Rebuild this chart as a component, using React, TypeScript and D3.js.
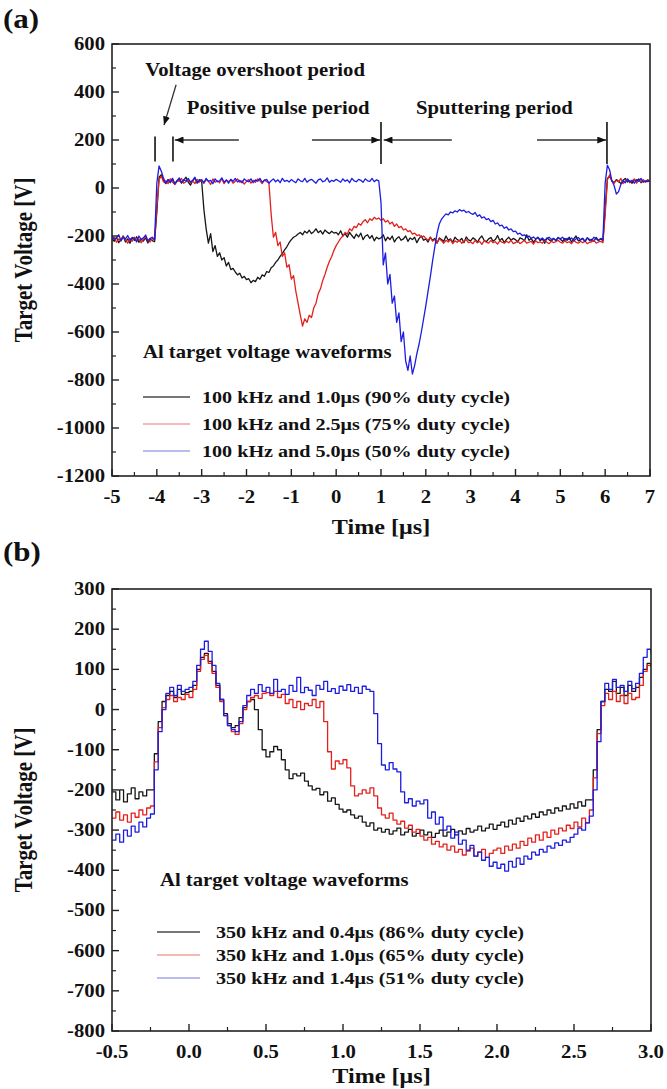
import React from 'react';
import * as d3 from 'd3';

const FONT = "'Liberation Serif','Times New Roman',Times,serif";
const SX = 1.15;

// ---------------- Panel (a) data: sampled every 0.05 µs from -5 µs ----------------
const aStart = -5;
const aStep = 0.05;
const aBlack = [
  -210,-222,-205,-228,-215,-200,-225,-212,-230,-208,-218,-203,-226,-214,-221,-207,-229,-211,-219,-224,
  -100,45,55,30,18,35,22,40,15,28,38,20,32,45,25,12,30,42,22,35,
  28,-90,-170,-230,-190,-265,-240,-285,-270,-300,-290,-325,-310,-340,-335,-350,-362,-355,-375,-368,
  -382,-378,-395,-385,-390,-372,-380,-362,-368,-348,-352,-332,-325,-310,-300,-285,-272,-258,-245,-228,
  -215,-205,-200,-192,-185,-195,-180,-188,-176,-190,-182,-170,-186,-178,-192,-175,-184,-190,-180,-188,
  -185,-195,-178,-200,-190,-205,-185,-198,-210,-192,-204,-188,-215,-200,-195,-210,-198,-220,-205,-212,
  -208,-195,-220,-205,-215,-200,-225,-210,-203,-218,-212,-200,-222,-208,-215,-205,-228,-210,-200,-218,
  -212,-225,-205,-218,-210,-230,-208,-215,-222,-200,-218,-212,-226,-205,-215,-220,-210,-228,-204,-216,
  -220,-208,-214,-226,-210,-200,-218,-224,-212,-206,-222,-215,-198,-220,-210,-228,-214,-205,-218,-210,
  -215,-225,-208,-212,-220,-195,-218,-210,-226,-214,-205,-220,-212,-230,-208,-216,-222,-210,-218,-206,
  -214,-222,-210,-218,-205,-226,-212,-200,-220,-216,-210,-224,-208,-218,-214,-222,-206,-218,-212,-220,
  -90,40,48,30,22,35,28,18,32,40,25,30,20,35,28,38,22,30,26,34,
  28,
];
const aRed = [
  -218,-205,-226,-212,-220,-200,-215,-230,-210,-222,-205,-218,-212,-228,-215,-203,-220,-225,-210,-216,
  -80,35,50,25,30,18,38,25,15,32,28,40,20,26,35,22,30,18,36,25,
  30,20,35,28,15,38,24,30,22,40,18,32,26,35,20,28,38,24,30,16,
  28,35,20,32,24,38,30,18,34,26,22,-110,-205,-185,-240,-225,-285,-270,-330,-320,
  -380,-365,-430,-480,-530,-575,-545,-560,-530,-540,-500,-480,-440,-420,-385,-360,-330,-305,-285,-260,
  -240,-225,-210,-200,-185,-192,-170,-178,-160,-165,-148,-155,-140,-132,-145,-128,-135,-122,-130,-125,
  -135,-128,-142,-135,-150,-142,-160,-150,-165,-160,-175,-170,-182,-178,-192,-188,-198,-195,-205,-200,
  -210,-218,-205,-222,-215,-228,-212,-220,-230,-218,-225,-215,-232,-220,-226,-218,-230,-222,-215,-228,
  -225,-232,-218,-228,-222,-235,-220,-226,-230,-218,-228,-224,-234,-220,-226,-230,-222,-228,-218,-232,
  -228,-220,-232,-225,-218,-230,-226,-222,-234,-220,-228,-225,-230,-218,-226,-232,-222,-228,-224,-218,
  -226,-230,-220,-228,-224,-232,-218,-226,-230,-222,-228,-220,-232,-226,-224,-218,-230,-225,-222,-228,
  -110,35,55,28,20,32,25,40,18,30,35,22,28,38,20,32,26,35,24,30,
  28,
];
const aBlue = [
  -200,-215,-208,-195,-220,-205,-212,-198,-218,-206,-210,-225,-200,-214,-208,-196,-220,-210,-205,-215,
  20,92,70,40,20,35,25,38,18,30,42,22,35,28,40,25,32,45,20,30,
  35,22,40,28,32,18,38,26,30,42,24,34,20,36,28,40,25,32,22,38,
  30,26,38,22,34,28,40,24,32,36,20,30,38,26,34,22,40,28,32,25,
  35,28,22,38,30,26,40,24,32,36,28,20,34,38,26,30,42,24,32,28,
  36,30,24,38,28,34,22,40,30,26,36,32,24,38,30,28,40,26,34,30,
  -60,-320,-270,-400,-360,-480,-450,-560,-520,-640,-600,-720,-760,-700,-775,-740,-690,-650,-600,-545,
  -490,-430,-370,-305,-245,-190,-150,-130,-118,-108,-112,-100,-104,-95,-100,-90,-96,-92,-102,-98,
  -105,-110,-102,-118,-112,-125,-120,-132,-128,-140,-135,-150,-145,-158,-155,-168,-162,-175,-170,-182,
  -180,-192,-188,-198,-195,-205,-200,-210,-204,-212,-206,-215,-208,-218,-210,-205,-215,-210,-220,-208,
  -212,-205,-218,-210,-215,-208,-220,-212,-206,-216,-210,-222,-208,-214,-218,-205,-212,-220,-210,-215,
  20,95,75,30,10,-25,-15,15,30,22,38,25,32,20,35,28,40,24,30,26,
  30,
];
const aXTicks = [-5, -4, -3, -2, -1, 0, 1, 2, 3, 4, 5, 6, 7];
const aYTicks = [-1200, -1000, -800, -600, -400, -200, 0, 200, 400, 600];
const aLegend = [
  '100 kHz and 1.0μs (90% duty cycle)',
  '100 kHz and 2.5μs (75% duty cycle)',
  '100 kHz and 5.0μs (50% duty cycle)',
];
// annotation marks in data space: [t, vLow, vHigh]
const aBars = [[-4.04, 110, 215], [-3.64, 110, 215], [1.0, 100, 275], [6.04, 100, 275]];
// arrows [tFrom, vFrom, tTo, vTo]
const aArrows = [
  [-2.17, 200, -3.6, 200],
  [-0.54, 200, 0.98, 200],
  [2.58, 200, 1.06, 200],
  [4.48, 200, 6.02, 200],
  [-3.57, 430, -3.84, 262],
];
const aNotes: [string, number, number][] = [
  ['Voltage overshoot period', -4.26, 492],
  ['Positive pulse period', -3.33, 333],
  ['Sputtering period', 1.78, 333],
];

// ---------------- Panel (b) data: sampled every 0.025 µs from -0.5 µs ----------------
const bStart = -0.5;
const bStep = 0.025;
const bBlack = [
  -205,-225,-200,-230,-210,-195,-222,-205,-215,-200,-200,-110,-30,20,35,45,30,50,38,42,
  45,60,100,130,140,120,95,60,25,-10,-35,-45,-40,-20,5,20,25,0,-50,-100,
  -118,-105,-92,-100,-125,-150,-172,-160,-165,-158,-178,-190,-200,-196,-212,-205,-228,-220,-236,-248,
  -255,-250,-262,-270,-265,-280,-290,-282,-300,-295,-305,-298,-310,-302,-295,-312,-305,-298,-315,-308,
  -300,-312,-305,-318,-308,-300,-315,-305,-298,-312,-302,-310,-296,-305,-300,-290,-302,-295,-285,-298,
  -288,-280,-292,-275,-285,-270,-278,-265,-272,-260,-268,-255,-262,-250,-258,-245,-252,-240,-248,-235,
  -245,-230,-240,-225,-225,-150,-50,20,50,45,70,40,55,35,60,45,55,80,100,115,
  105,
];
const bRed = [
  -270,-255,-275,-262,-280,-258,-268,-250,-262,-245,-240,-130,-45,5,25,35,20,30,25,38,
  30,50,95,125,135,115,90,55,20,-15,-40,-55,-62,-35,0,20,30,35,28,40,
  42,35,45,30,38,15,25,5,20,0,15,10,25,5,20,-30,-105,-148,-128,-135,
  -125,-145,-190,-215,-210,-200,-208,-195,-215,-245,-262,-270,-258,-275,-285,-278,-295,-288,-305,-298,
  -315,-325,-318,-335,-328,-342,-335,-350,-340,-355,-348,-362,-352,-345,-365,-355,-348,-368,-358,-350,
  -345,-358,-340,-350,-335,-345,-328,-338,-320,-330,-312,-325,-305,-318,-300,-310,-295,-302,-288,-296,
  -280,-292,-270,-282,-250,-170,-60,10,40,25,45,20,35,15,40,25,30,60,95,110,
  115,
];
const bBlue = [
  -325,-310,-330,-300,-315,-290,-305,-280,-292,-270,-260,-150,-55,0,40,55,35,60,45,50,
  55,70,110,150,170,145,110,65,25,-15,-40,-50,-55,-30,10,35,50,40,62,45,
  55,40,75,45,50,38,60,45,80,42,55,48,35,60,50,70,45,52,40,58,
  48,62,45,55,40,58,50,45,-10,-85,-138,-150,-132,-148,-155,-205,-232,-222,-240,-228,
  -235,-225,-270,-255,-285,-268,-300,-290,-320,-305,-335,-325,-350,-338,-365,-355,-375,-368,-390,-380,
  -395,-385,-402,-378,-392,-370,-385,-365,-372,-355,-362,-348,-355,-340,-345,-332,-338,-325,-330,-318,
  -310,-295,-300,-282,-265,-200,-80,20,65,50,75,55,60,45,70,52,65,90,130,150,
  140,
];
const bXTicks = [-0.5, 0, 0.5, 1, 1.5, 2, 2.5, 3];
const bYTicks = [-800, -700, -600, -500, -400, -300, -200, -100, 0, 100, 200, 300];
const bLegend = [
  '350 kHz and 0.4μs (86% duty cycle)',
  '350 kHz and 1.0μs (65% duty cycle)',
  '350 kHz and 1.4μs (51% duty cycle)',
];

const COLORS = ['#161616', '#e4201c', '#1c1ce2'];
const LEGEND_COLORS = ['#4a4a4a', '#f4a0a0', '#a4a4ea'];

function Txt({ x, y, size = 18, anchor = 'start', rotate = false, children }: any) {
  const tr = `translate(${x},${y}) scale(${SX},1)` + (rotate ? ' rotate(-90)' : '');
  return (
    <text transform={tr} fontFamily={FONT} fontWeight="bold" fontSize={size}
      textAnchor={anchor} dominantBaseline="central" fill="#111">{children}</text>
  );
}

function Panel(props: any) {
  const { id, box, xDomain, yDomain, xTicks, yTicks, xFmt, series, start, step, curve,
    legendTitle, legendLabels, legend, letter, letterY, annot, titleDy } = props;
  const x = d3.scaleLinear().domain(xDomain).range([box.l, box.r]);
  const y = d3.scaleLinear().domain(yDomain).range([box.b, box.t]);
  const line = d3.line<number>().x((_, i) => x(start + i * step)).y((d) => y(d)).curve(curve);
  const xMinor = xTicks.slice(1).map((v: number, i: number) => (v + xTicks[i]) / 2);
  const yMinor = yTicks.slice(1).map((v: number, i: number) => (v + yTicks[i]) / 2);
  const stroke = '#222';
  return (
    <g>
      <defs>
        <clipPath id={`clip-${id}`}>
          <rect x={box.l} y={box.t} width={box.r - box.l} height={box.b - box.t} />
        </clipPath>
      </defs>
      <g clipPath={`url(#clip-${id})`}>
        {series.map((s: number[], k: number) => (
          <path key={k} d={line(s) || ''} fill="none" stroke={COLORS[k]} strokeWidth={1.3} strokeLinejoin="round" />
        ))}
      </g>
      {annot ? annot(x, y) : null}
      <rect x={box.l} y={box.t} width={box.r - box.l} height={box.b - box.t} fill="none" stroke={stroke} strokeWidth={1.6} />
      {xTicks.map((v: number) => (
        <line key={'xt' + v} x1={x(v)} x2={x(v)} y1={box.b} y2={box.b - 7} stroke={stroke} strokeWidth={1.4} />
      ))}
      {xMinor.map((v: number) => (
        <line key={'xm' + v} x1={x(v)} x2={x(v)} y1={box.b} y2={box.b - 4} stroke={stroke} strokeWidth={1.2} />
      ))}
      {yTicks.map((v: number) => (
        <line key={'yt' + v} x1={box.l} x2={box.l + 7} y1={y(v)} y2={y(v)} stroke={stroke} strokeWidth={1.4} />
      ))}
      {yMinor.map((v: number) => (
        <line key={'ym' + v} x1={box.l} x2={box.l + 4} y1={y(v)} y2={y(v)} stroke={stroke} strokeWidth={1.2} />
      ))}
      {xTicks.map((v: number) => (
        <Txt key={'xl' + v} x={x(v)} y={box.b + 21} anchor="middle">{xFmt(v)}</Txt>
      ))}
      {yTicks.map((v: number) => (
        <Txt key={'yl' + v} x={box.l - 7} y={y(v)} anchor="end">{String(v)}</Txt>
      ))}
      <Txt x={(box.l + box.r) / 2} y={box.b + titleDy} size={21} anchor="middle">Time [μs]</Txt>
      <Txt x={24} y={(box.t + box.b) / 2} size={21} anchor="middle" rotate>Target Voltage [V]</Txt>
      <Txt x={3} y={letterY} size={27}>{letter}</Txt>
      <Txt x={legend.titleX} y={legend.titleY}>{legendTitle}</Txt>
      {legendLabels.map((lab: string, k: number) => (
        <g key={'lg' + k}>
          <line x1={legend.lineX1} x2={legend.lineX2} y1={legend.rowY + k * legend.rowDy}
            y2={legend.rowY + k * legend.rowDy} stroke={LEGEND_COLORS[k]} strokeWidth={1.3} />
          <Txt x={legend.textX} y={legend.rowY + k * legend.rowDy} size={17.5}>{lab}</Txt>
        </g>
      ))}
    </g>
  );
}

export default function App() {
  const annotA = (x: any, y: any) => (
    <g>
      {aBars.map((b, i) => (
        <line key={'bar' + i} x1={x(b[0])} x2={x(b[0])} y1={y(b[1])} y2={y(b[2])} stroke="#111" strokeWidth={1.6} />
      ))}
      {aArrows.map((a, i) => (
        <line key={'arr' + i} x1={x(a[0])} y1={y(a[1])} x2={x(a[2])} y2={y(a[3])}
          stroke="#333" strokeWidth={1.3} markerEnd="url(#arrowHead)" />
      ))}
      {aNotes.map((n, i) => (
        <Txt key={'note' + i} x={x(n[1])} y={y(n[2])}>{n[0]}</Txt>
      ))}
    </g>
  );
  return (
    <svg width={667} height={1089} viewBox="0 0 667 1089"
      style={{ position: 'absolute', left: 0, top: 0, background: '#fff' }}>
      <defs>
        <marker id="arrowHead" viewBox="0 0 10 8" refX={10} refY={4} markerWidth={9} markerHeight={7}
          markerUnits="userSpaceOnUse" orient="auto">
          <path d="M0,0 L10,4 L0,8 z" fill="#111" />
        </marker>
      </defs>
      <rect x={0} y={0} width={667} height={1089} fill="#fff" />
      <Panel
        id="a"
        box={{ l: 112, r: 650, t: 44, b: 476 }}
        xDomain={[-5, 7]}
        yDomain={[-1200, 600]}
        xTicks={aXTicks}
        yTicks={aYTicks}
        xFmt={(v: number) => String(v)}
        series={[aBlack, aRed, aBlue]}
        start={aStart}
        step={aStep}
        curve={d3.curveLinear}
        legendTitle="Al target voltage waveforms"
        legendLabels={aLegend}
        legend={{ titleX: 143, titleY: 352, lineX1: 143, lineX2: 190, textX: 202, rowY: 397, rowDy: 27 }}
        letter="(a)"
        letterY={19}
        annot={annotA}
        titleDy={51}
      />
      <Panel
        id="b"
        box={{ l: 112, r: 651, t: 589, b: 1031 }}
        xDomain={[-0.5, 3]}
        yDomain={[-800, 300]}
        xTicks={bXTicks}
        yTicks={bYTicks}
        xFmt={(v: number) => v.toFixed(1)}
        series={[bBlack, bRed, bBlue]}
        start={bStart}
        step={bStep}
        curve={d3.curveStepAfter}
        legendTitle="Al target voltage waveforms"
        legendLabels={bLegend}
        legend={{ titleX: 160, titleY: 880, lineX1: 157, lineX2: 200, textX: 216, rowY: 932, rowDy: 23 }}
        letter="(b)"
        letterY={552}
        titleDy={45}
      />
    </svg>
  );
}
